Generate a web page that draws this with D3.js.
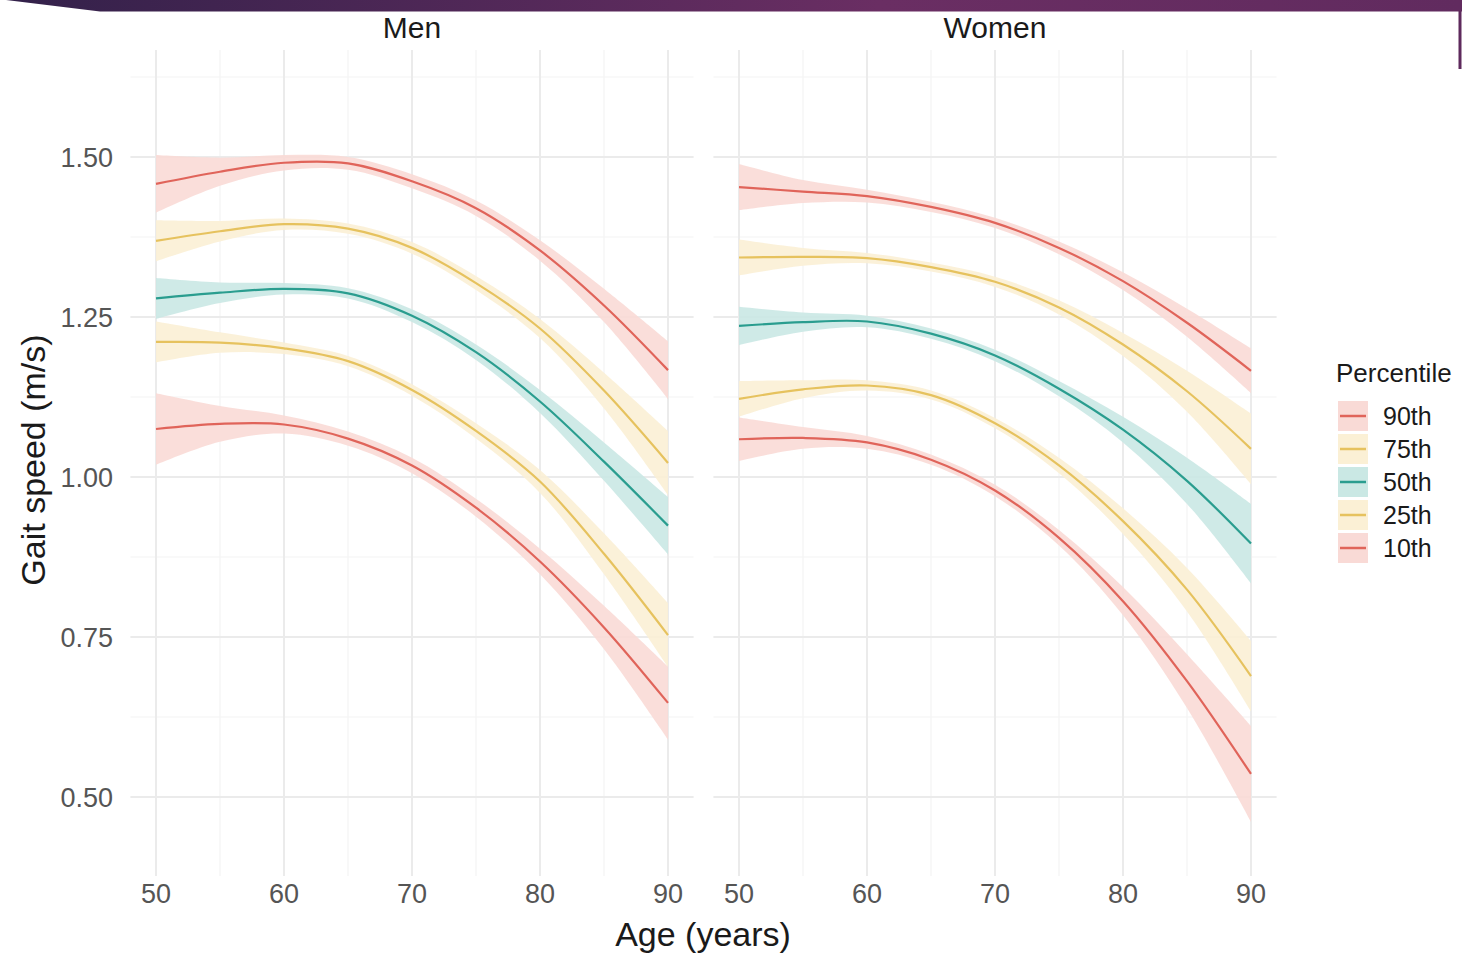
<!DOCTYPE html>
<html>
<head>
<meta charset="utf-8">
<script src="https://d3js.org/d3.v7.min.js"></script>
<style>
    body { margin: 0; background: white; }
    svg text { font-family: "Liberation Sans", Arial, sans-serif; }
    .grid-major { stroke: #ebebeb; stroke-width: 2px; }
    .grid-minor { stroke: #f3f3f3; stroke-width: 1.2px; }
    .tick-label { fill: #555555; font-size: 27px; }
</style>
</head>
<body>
<svg id="chart" width="1462" height="955"></svg>

<script>

// Data
const ages = [50, 55, 60, 65, 70, 75, 80, 85, 90];
const percentiles = ["90th", "75th", "50th", "25th", "10th"];
const panels = ["Men", "Women"];

// fitted gait speed per percentile, Men
const men90 = [1.458, 1.477, 1.491, 1.490, 1.462, 1.420, 1.354, 1.268, 1.167];
const men75 = [1.369, 1.384, 1.395, 1.388, 1.358, 1.303, 1.232, 1.135, 1.022];
const men50 = [1.279, 1.288, 1.294, 1.287, 1.252, 1.195, 1.118, 1.024, 0.924];
const men25 = [1.211, 1.210, 1.201, 1.181, 1.136, 1.072, 0.993, 0.880, 0.753];
const men10 = [1.075, 1.083, 1.082, 1.060, 1.018, 0.952, 0.868, 0.765, 0.647];

// fitted gait speed per percentile, Women
const women90 = [1.453, 1.446, 1.439, 1.422, 1.397, 1.358, 1.306, 1.241, 1.166];
const women75 = [1.343, 1.344, 1.342, 1.328, 1.305, 1.265, 1.207, 1.134, 1.044];
const women50 = [1.236, 1.242, 1.243, 1.224, 1.190, 1.138, 1.074, 0.994, 0.896];
const women25 = [1.122, 1.137, 1.143, 1.128, 1.084, 1.018, 0.931, 0.824, 0.689];
const women10 = [1.059, 1.061, 1.054, 1.027, 0.979, 0.905, 0.806, 0.681, 0.536];

// confidence band half widths
const menCi90 = [0.045, 0.022, 0.012, 0.010, 0.011, 0.012, 0.016, 0.026, 0.045];
const menCi75 = [0.032, 0.016, 0.009, 0.008, 0.009, 0.011, 0.015, 0.028, 0.050];
const menCi50 = [0.032, 0.016, 0.009, 0.008, 0.010, 0.012, 0.018, 0.030, 0.045];
const menCi25 = [0.032, 0.016, 0.009, 0.008, 0.009, 0.012, 0.018, 0.032, 0.050];
const menCi10 = [0.056, 0.028, 0.014, 0.011, 0.012, 0.014, 0.020, 0.034, 0.057];
const womenCi90 = [0.036, 0.018, 0.010, 0.008, 0.008, 0.010, 0.014, 0.022, 0.035];
const womenCi75 = [0.028, 0.014, 0.008, 0.007, 0.008, 0.011, 0.018, 0.032, 0.055];
const womenCi50 = [0.030, 0.015, 0.009, 0.008, 0.009, 0.012, 0.020, 0.036, 0.062];
const womenCi25 = [0.028, 0.014, 0.008, 0.007, 0.008, 0.012, 0.020, 0.034, 0.055];
const womenCi10 = [0.034, 0.017, 0.010, 0.008, 0.009, 0.012, 0.022, 0.042, 0.075];

// axis ticks
const xTicks = [50, 60, 70, 80, 90];
const xMinor = [55, 65, 75, 85];
const yTicks = [0.50, 0.75, 1.00, 1.25, 1.50];
const yMinor = [0.625, 0.875, 1.125, 1.375, 1.625];

const series = {
    Men: [men90, men75, men50, men25, men10],
    Women: [women90, women75, women50, women25, women10]
};
const bands = {
    Men: [menCi90, menCi75, menCi50, menCi25, menCi10],
    Women: [womenCi90, womenCi75, womenCi50, womenCi25, womenCi10]
};

const lineColor = d3.scaleOrdinal().domain(percentiles)
    .range(["#e0645a", "#e6c25e", "#2a9d8f", "#e6c25e", "#e0645a"]);
const bandColor = d3.scaleOrdinal().domain(percentiles)
    .range(["#f9dad6", "#fbf0d5", "#cae8e4", "#fbf0d5", "#f9dad6"]);

// SVG setup
const svg = d3.select("#chart");

// purple banner along the top
const defs = svg.append("defs");
const grad = defs.append("linearGradient").attr("id", "banner");
grad.append("stop").attr("offset", "0%").attr("stop-color", "#33214a");
grad.append("stop").attr("offset", "60%").attr("stop-color", "#6a2e63");
grad.append("stop").attr("offset", "100%").attr("stop-color", "#612b5f");
svg.append("path")
   .attr("d", "M6,0 L1462,0 L1462,11.5 L100,11.5 Z")
   .attr("fill", "url(#banner)");
svg.append("rect")
   .attr("x", 1458.5).attr("y", 11).attr("width", 3).attr("height", 58)
   .attr("fill", "#5e2a5d");

// scales
const yScale = d3.scaleLinear().domain([0.5, 1.5]).range([797, 157]);
const yTop = yScale.invert(50), yBottom = yScale.invert(876);
const panelX = { Men: [130.4, 693.6], Women: [713.4, 1276.6] };
const curve = d3.curveCatmullRom.alpha(0.5);

const area = (x, ci) => d3.area()
    .x((d, i) => x(ages[i]))
    .y0((d, i) => yScale(d - ci[i]))
    .y1((d, i) => yScale(d + ci[i]))
    .curve(curve);

panels.forEach(p => {
    const xScale = d3.scaleLinear().domain([48, 92]).range(panelX[p]);
    const g = svg.append("g").attr("class", "panel");

    // grid
    g.selectAll("line.ymin").data(yMinor).join("line")
     .attr("class", "grid-minor")
     .attr("x1", panelX[p][0]).attr("x2", panelX[p][1])
     .attr("y1", d => yScale(d)).attr("y2", d => yScale(d));
    g.selectAll("line.xmin").data(xMinor).join("line")
     .attr("class", "grid-minor")
     .attr("x1", d => xScale(d)).attr("x2", d => xScale(d))
     .attr("y1", yScale(yTop)).attr("y2", yScale(yBottom));
    g.selectAll("line.ymaj").data(yTicks).join("line")
     .attr("class", "grid-major")
     .attr("x1", panelX[p][0]).attr("x2", panelX[p][1])
     .attr("y1", d => yScale(d)).attr("y2", d => yScale(d));
    g.selectAll("line.xmaj").data(xTicks).join("line")
     .attr("class", "grid-major")
     .attr("x1", d => xScale(d)).attr("x2", d => xScale(d))
     .attr("y1", yScale(yTop)).attr("y2", yScale(yBottom));

    // ribbons first, then lines on top
    percentiles.forEach((pc, k) => {
        g.append("path")
         .datum(series[p][k])
         .attr("d", area(xScale, bands[p][k]))
         .attr("fill", bandColor(pc))
         .attr("fill-opacity", 0.9);
    });
    percentiles.forEach((pc, k) => {
        g.append("path")
         .datum(series[p][k])
         .attr("d", d3.line().x((d, i) => xScale(ages[i])).y(d => yScale(d)).curve(curve))
         .attr("fill", "none")
         .attr("stroke", lineColor(pc))
         .attr("stroke-width", 2.2);
    });

    // x tick labels
    g.selectAll("text.xt").data(xTicks).join("text")
     .attr("class", "tick-label")
     .attr("x", d => xScale(d)).attr("y", 903)
     .attr("text-anchor", "middle")
     .text(d => d);

    // strip title
    g.append("text")
     .attr("x", (panelX[p][0] + panelX[p][1]) / 2).attr("y", 38)
     .attr("text-anchor", "middle")
     .style("font-size", "30px").style("fill", "#1a1a1a")
     .text(p);
});

// y tick labels (left panel only)
svg.selectAll("text.yt").data(yTicks).join("text")
   .attr("class", "tick-label")
   .attr("x", 113).attr("y", d => yScale(d) + 9.5)
   .attr("text-anchor", "end")
   .text(d => d3.format(".2f")(d));

// axis titles
svg.append("text")
   .attr("transform", "translate(45,460) rotate(-90)")
   .attr("text-anchor", "middle")
   .style("font-size", "34px").style("fill", "#1a1a1a")
   .text("Gait speed (m/s)");
svg.append("text")
   .attr("x", 703).attr("y", 946)
   .attr("text-anchor", "middle")
   .style("font-size", "34px").style("fill", "#1a1a1a")
   .text("Age (years)");

// legend
const legend = svg.append("g").attr("transform", "translate(1336,0)");
legend.append("text")
   .attr("x", 0).attr("y", 382)
   .style("font-size", "26px").style("fill", "#1a1a1a")
   .text("Percentile");
const item = legend.selectAll("g.item").data(percentiles).join("g")
   .attr("transform", (d, i) => "translate(0," + (416 + i * 33) + ")");
item.append("rect")
   .attr("x", 2).attr("y", -15).attr("width", 30).attr("height", 30)
   .attr("fill", d => bandColor(d));
item.append("line")
   .attr("x1", 4).attr("x2", 30).attr("y1", 0).attr("y2", 0)
   .attr("stroke", d => lineColor(d)).attr("stroke-width", 2.5);
item.append("text")
   .attr("x", 47).attr("y", 9)
   .style("font-size", "25px").style("fill", "#1a1a1a")
   .text(d => d);

</script>
</body>
</html>
